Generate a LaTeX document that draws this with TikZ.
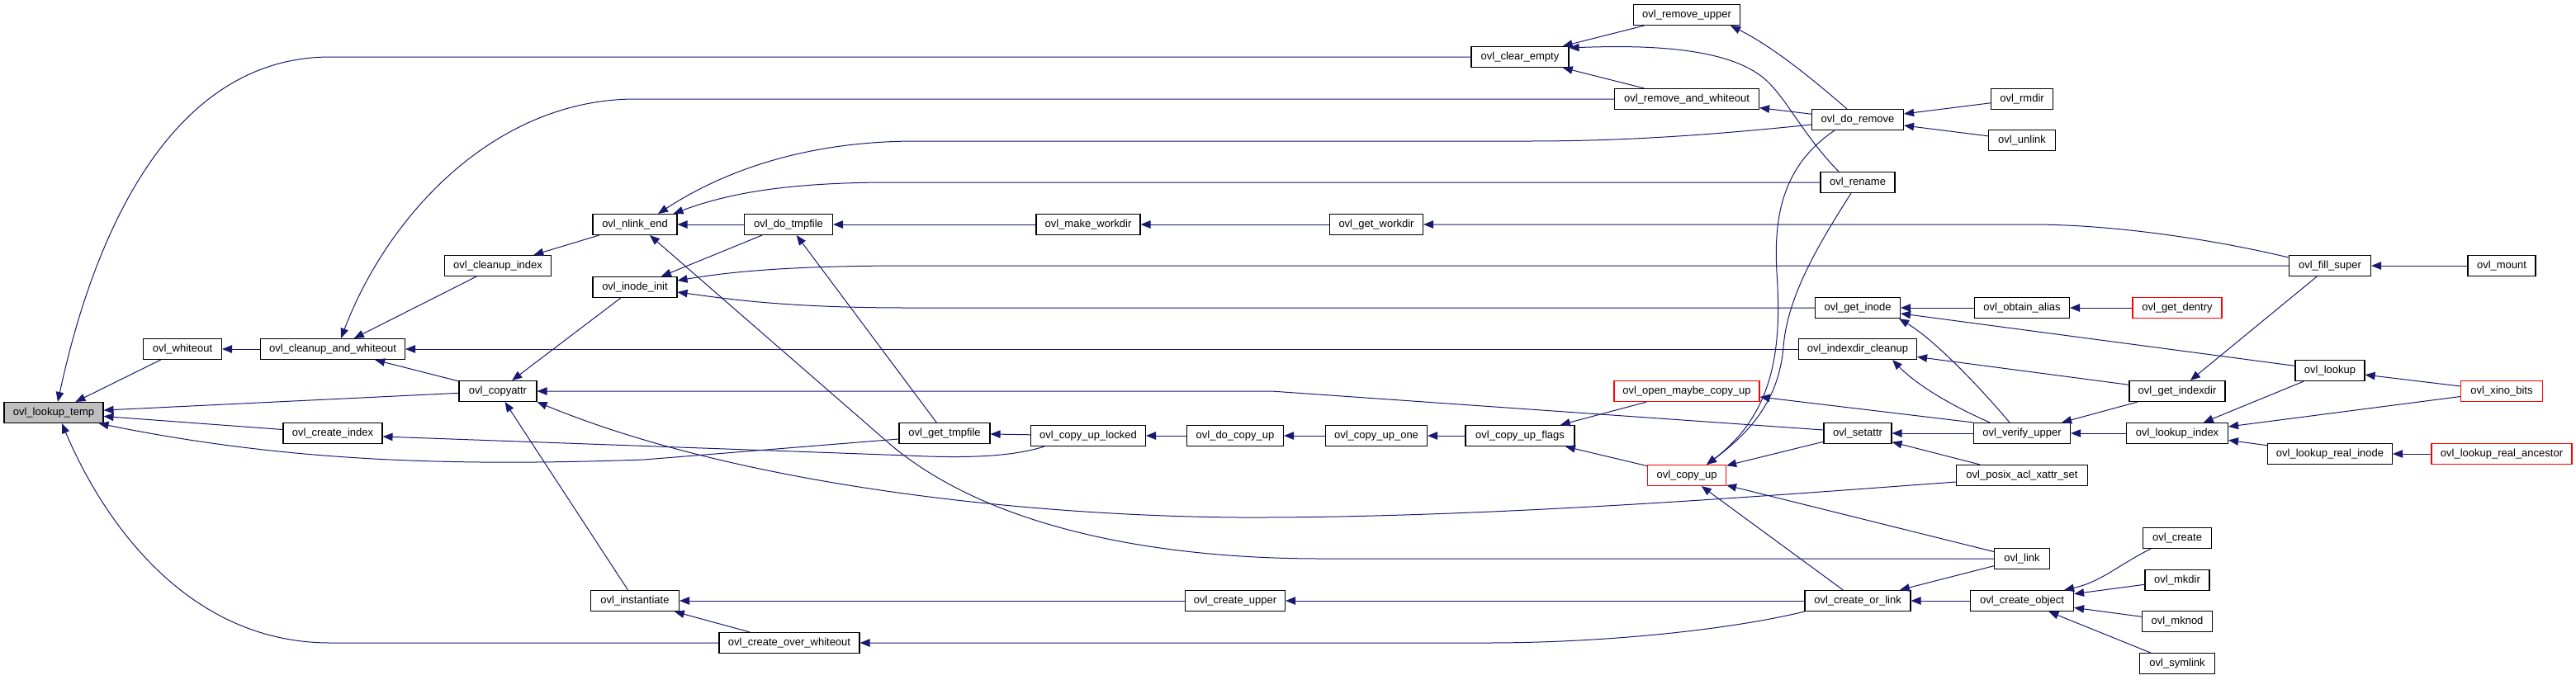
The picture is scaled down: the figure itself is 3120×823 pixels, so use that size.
\documentclass[tikz,border=0pt]{standalone}
\usepackage{fontspec}
\setmainfont{Liberation Sans}
\usetikzlibrary{arrows.meta,calc}
\definecolor{navy}{HTML}{191970}
\definecolor{nodegrey}{HTML}{BFBFBF}
\definecolor{fnred}{HTML}{FF0000}
\newcommand{\fnfont}{\fontsize{13}{15}\selectfont}
\begin{document}
\begin{tikzpicture}[x=1pt,y=-1pt,
  fn/.style={draw=black, line width=1.1pt, fill=white, minimum height=25pt, inner xsep=2pt, inner ysep=0pt, font=\fnfont, text=black},
  fnred/.style={fn, draw=fnred},
  fnsel/.style={fn, fill=nodegrey},
  cg/.style={draw=navy, line width=1pt, -{Triangle[length=12pt,width=9.5pt]}}]
\fill[white] (0,0) rectangle (3120,823);
\useasboundingbox (0,0) rectangle (3120,823);

% nodes
\node[fnsel, minimum width=120pt] (lt) at (65,500) {ovl\_lookup\_temp};
\node[fn, minimum width=95pt] (wo) at (221,423) {ovl\_whiteout};
\node[fn, minimum width=175pt] (caw) at (403,423) {ovl\_cleanup\_and\_whiteout};
\node[fn, minimum width=120pt] (ci) at (403,525) {ovl\_create\_index};
\node[fn, minimum width=94pt] (ca) at (603,474) {ovl\_copyattr};
\node[fn, minimum width=129pt] (cix) at (603,322) {ovl\_cleanup\_index};
\node[fn, minimum width=102pt] (ne) at (769,272) {ovl\_nlink\_end};
\node[fn, minimum width=102pt] (ii) at (769,348) {ovl\_inode\_init};
\node[fn, minimum width=107pt] (ins) at (769,728) {ovl\_instantiate};
\node[fn, minimum width=107pt] (dt) at (955,272) {ovl\_do\_tmpfile};
\node[fn, minimum width=170pt] (cow) at (956,779) {ovl\_create\_over\_whiteout};
\node[fn, minimum width=110pt] (gt) at (1144,525) {ovl\_get\_tmpfile};
\node[fn, minimum width=139pt] (cul) at (1318,528) {ovl\_copy\_up\_locked};
\node[fn, minimum width=126pt] (mw) at (1318,272) {ovl\_make\_workdir};
\node[fn, minimum width=117pt] (dcu) at (1496,528) {ovl\_do\_copy\_up};
\node[fn, minimum width=121pt] (cupr) at (1496,728) {ovl\_create\_upper};
\node[fn, minimum width=113pt] (gw) at (1667,272) {ovl\_get\_workdir};
\node[fn, minimum width=123pt] (cuo) at (1667,528) {ovl\_copy\_up\_one};
\node[fn, minimum width=118pt] (ce) at (1841,69) {ovl\_clear\_empty};
\node[fn, minimum width=132pt] (cuf) at (1841,528) {ovl\_copy\_up\_flags};
\node[fn, minimum width=129pt] (ru) at (2043,18) {ovl\_remove\_upper};
\node[fn, minimum width=175pt] (raw) at (2043,120) {ovl\_remove\_and\_whiteout};
\node[fnred, minimum width=176pt] (omc) at (2043,474) {ovl\_open\_maybe\_copy\_up};
\node[fnred, minimum width=95pt] (cup) at (2043,576) {ovl\_copy\_up};
\node[fn, minimum width=111pt] (dr) at (2250,145) {ovl\_do\_remove};
\node[fn, minimum width=90pt] (ren) at (2250,221) {ovl\_rename};
\node[fn, minimum width=103pt] (gi) at (2250,373) {ovl\_get\_inode};
\node[fn, minimum width=143pt] (idc) at (2250,423) {ovl\_indexdir\_cleanup};
\node[fn, minimum width=82pt] (sa) at (2250,525) {ovl\_setattr};
\node[fn, minimum width=128pt] (col) at (2250,728) {ovl\_create\_or\_link};
\node[fn, minimum width=75pt] (rmd) at (2449,120) {ovl\_rmdir};
\node[fn, minimum width=81pt] (unl) at (2449,170) {ovl\_unlink};
\node[fn, minimum width=115pt] (oa) at (2449,373) {ovl\_obtain\_alias};
\node[fn, minimum width=117pt] (vu) at (2449,525) {ovl\_verify\_upper};
\node[fn, minimum width=159pt] (pax) at (2449,576) {ovl\_posix\_acl\_xattr\_set};
\node[fn, minimum width=67pt] (lnk) at (2449,677) {ovl\_link};
\node[fn, minimum width=125pt] (cob) at (2449,728) {ovl\_create\_object};
\node[fnred, minimum width=108pt] (gd) at (2637,373) {ovl\_get\_dentry};
\node[fn, minimum width=116pt] (gix) at (2637,474) {ovl\_get\_indexdir};
\node[fn, minimum width=123pt] (li) at (2637,525) {ovl\_lookup\_index};
\node[fn, minimum width=83pt] (cr) at (2637,652) {ovl\_create};
\node[fn, minimum width=78pt] (mkd) at (2637,703) {ovl\_mkdir};
\node[fn, minimum width=85pt] (mkn) at (2637,753) {ovl\_mknod};
\node[fn, minimum width=91pt] (sym) at (2637,804) {ovl\_symlink};
\node[fn, minimum width=99pt] (fs) at (2822,322) {ovl\_fill\_super};
\node[fn, minimum width=84pt] (lk) at (2822,449) {ovl\_lookup};
\node[fn, minimum width=151pt] (lri) at (2822,550) {ovl\_lookup\_real\_inode};
\node[fn, minimum width=82pt] (mnt) at (3030,322) {ovl\_mount};
\node[fnred, minimum width=99pt] (xb) at (3030,474) {ovl\_xino\_bits};
\node[fnred, minimum width=170pt] (lra) at (3030,550) {ovl\_lookup\_real\_ancestor};

% edges into ovl_lookup_temp
\draw[cg] (wo) -- (lt);
\draw[cg] (ca) -- (lt);
\draw[cg] (ci) -- (lt);
\draw[cg] (ce.west) -- (400,69) .. controls (200,69) and (110,300) .. ($(lt.north)+(5,0)$);
\draw[cg] ($(gt.west)+(0,7)$) -- (780,557) .. controls (550,565) and (350,560) .. ($(lt.south east)+(-6,0)$);
\draw[cg] (cow.west) -- (400,779) .. controls (220,779) and (120,620) .. ($(lt.south)+(10,0)$);

% whiteout / cleanup
\draw[cg] (caw) -- (wo);
\draw[cg] (raw.west) -- (770,120) .. controls (600,120) and (470,260) .. ($(caw.north)+(10,0)$);
\draw[cg] (cix) -- (caw);
\draw[cg] (ca) -- (caw);
\draw[cg] (idc) -- (caw);
\draw[cg] (ne) -- (cix);

% copyattr
\draw[cg] (ii) -- (ca);
\draw[cg] (ins) -- (ca);
\draw[cg] ($(sa.west)+(0,-4)$) -- (1540,474) -- (ca.east);
\draw[cg] ($(pax.west)+(0,8)$) .. controls (2150,600) and (1800,628) .. (1500,627) .. controls (1250,625) and (900,590) .. (ca.south east);

% nlink_end
\draw[cg] (dt) -- (ne);
\draw[cg] ($(dr.west)+(0,6)$) .. controls (2050,166) and (1950,171) .. (1850,171) -- (1110,171) .. controls (980,171) and (880,205) .. ($(ne.north)+(28,0)$);
\draw[cg] (ren.west) -- (1080,221) .. controls (950,221) and (880,235) .. ($(ne.north east)+(-5,0)$);
\draw[cg] (lnk.west) -- (1600,677) .. controls (1400,677) and (1200,640) .. (1080,540) -- ($(ne.south)+(18,0)$);

% inode_init
\draw[cg] (dt) -- (ii);
\draw[cg] (fs.west) -- (1100,322) .. controls (950,322) and (880,330) .. ($(ii.east)+(0,-8)$);
\draw[cg] (gi.west) -- (1100,373) .. controls (950,373) and (880,362) .. ($(ii.east)+(0,6)$);

% workdir chain
\draw[cg] (mw) -- (dt);
\draw[cg] (gw) -- (mw);
\draw[cg] ($(fs.west)+(0,-10)$) .. controls (2680,290) and (2560,272) .. (2460,272) -- (gw.east);

% tmpfile / copy up chain
\draw[cg] (gt) -- (dt);
\draw[cg] (cul) -- (gt);
\draw[cg] ($(cul.south west)+(17,0)$) .. controls (1230,552) and (1180,556) .. (1100,552) -- ($(ci.east)+(0,4)$);
\draw[cg] (dcu) -- (cul);
\draw[cg] (cuo) -- (dcu);
\draw[cg] (cuf) -- (cuo);
\draw[cg] (omc) -- (cuf);
\draw[cg] (cup) -- (cuf);

% instantiate
\draw[cg] (cupr) -- (ins);
\draw[cg] (cow) -- (ins);
\draw[cg] (col) -- (cupr);
\draw[cg] (col.south west) .. controls (2100,762) and (1950,779) .. (1800,779) -- (cow.east);

% remove
\draw[cg] ($(dr.north)+(-13,0)$) .. controls (2200,100) and (2150,58) .. ($(ru.south east)+(-12,0)$);
\draw[cg] (ru) -- (ce);
\draw[cg] (raw) -- (ce);
\draw[cg] ($(ren.north)+(-23,0)$) .. controls (2180,160) and (2160,110) .. (2130,90) .. controls (2080,55) and (1980,55) .. ($(ce.north east)+(0,2)$);
\draw[cg] (dr) -- (raw);
\draw[cg] (rmd) -- (dr);
\draw[cg] (unl) -- (dr);

% copy_up
\draw[cg] ($(dr.south)+(-28,0)$) .. controls (2160,200) and (2148,260) .. (2152,330) .. controls (2158,420) and (2150,500) .. ($(cup.north)+(24,0)$);
\draw[cg] ($(ren.south)+(-8,0)$) .. controls (2200,300) and (2165,360) .. (2160,420) .. controls (2155,480) and (2125,520) .. ($(cup.north)+(24,0)$);
\draw[cg] (sa) -- (cup);
\draw[cg] (lnk) -- (cup);
\draw[cg] (col) -- (cup);

% setattr, create_or_link
\draw[cg] (vu) -- (sa);
\draw[cg] (pax) -- (sa);
\draw[cg] (lnk) -- (col);
\draw[cg] (cob) -- (col);

% verify_upper and friends
\draw[cg] (vu.north west) -- ($(omc.east)+(0,7)$);
\draw[cg] (gix) -- (vu);
\draw[cg] (li) -- (vu);
\draw[cg] ($(vu.north)+(-15,0)$) .. controls (2390,460) and (2340,410) .. ($(gi.south east)+(-2,0)$);
\draw[cg] ($(vu.north)+(-39,0)$) .. controls (2360,490) and (2320,465) .. ($(idc.south east)+(-30,0)$);
\draw[cg] (gix) -- (idc);

% inode / lookup
\draw[cg] (oa) -- (gi);
\draw[cg] (gd) -- (oa);
\draw[cg] (lk) -- (gi);
\draw[cg] (mnt) -- (fs);
\draw[cg] (fs) -- (gix);
\draw[cg] (xb) -- (lk);
\draw[cg] (xb) -- (li);
\draw[cg] (lk) -- (li);
\draw[cg] (lri) -- (li);
\draw[cg] (lra) -- (lri);

% create_object
\draw[cg] ($(cr.south west)+(10,0)$) .. controls (2565,685) and (2545,705) .. ($(cob.north east)+(-12,0)$);
\draw[cg] (mkd) -- (cob);
\draw[cg] (mkn) -- (cob);
\draw[cg] (sym) -- (cob);
\end{tikzpicture}
\end{document}
